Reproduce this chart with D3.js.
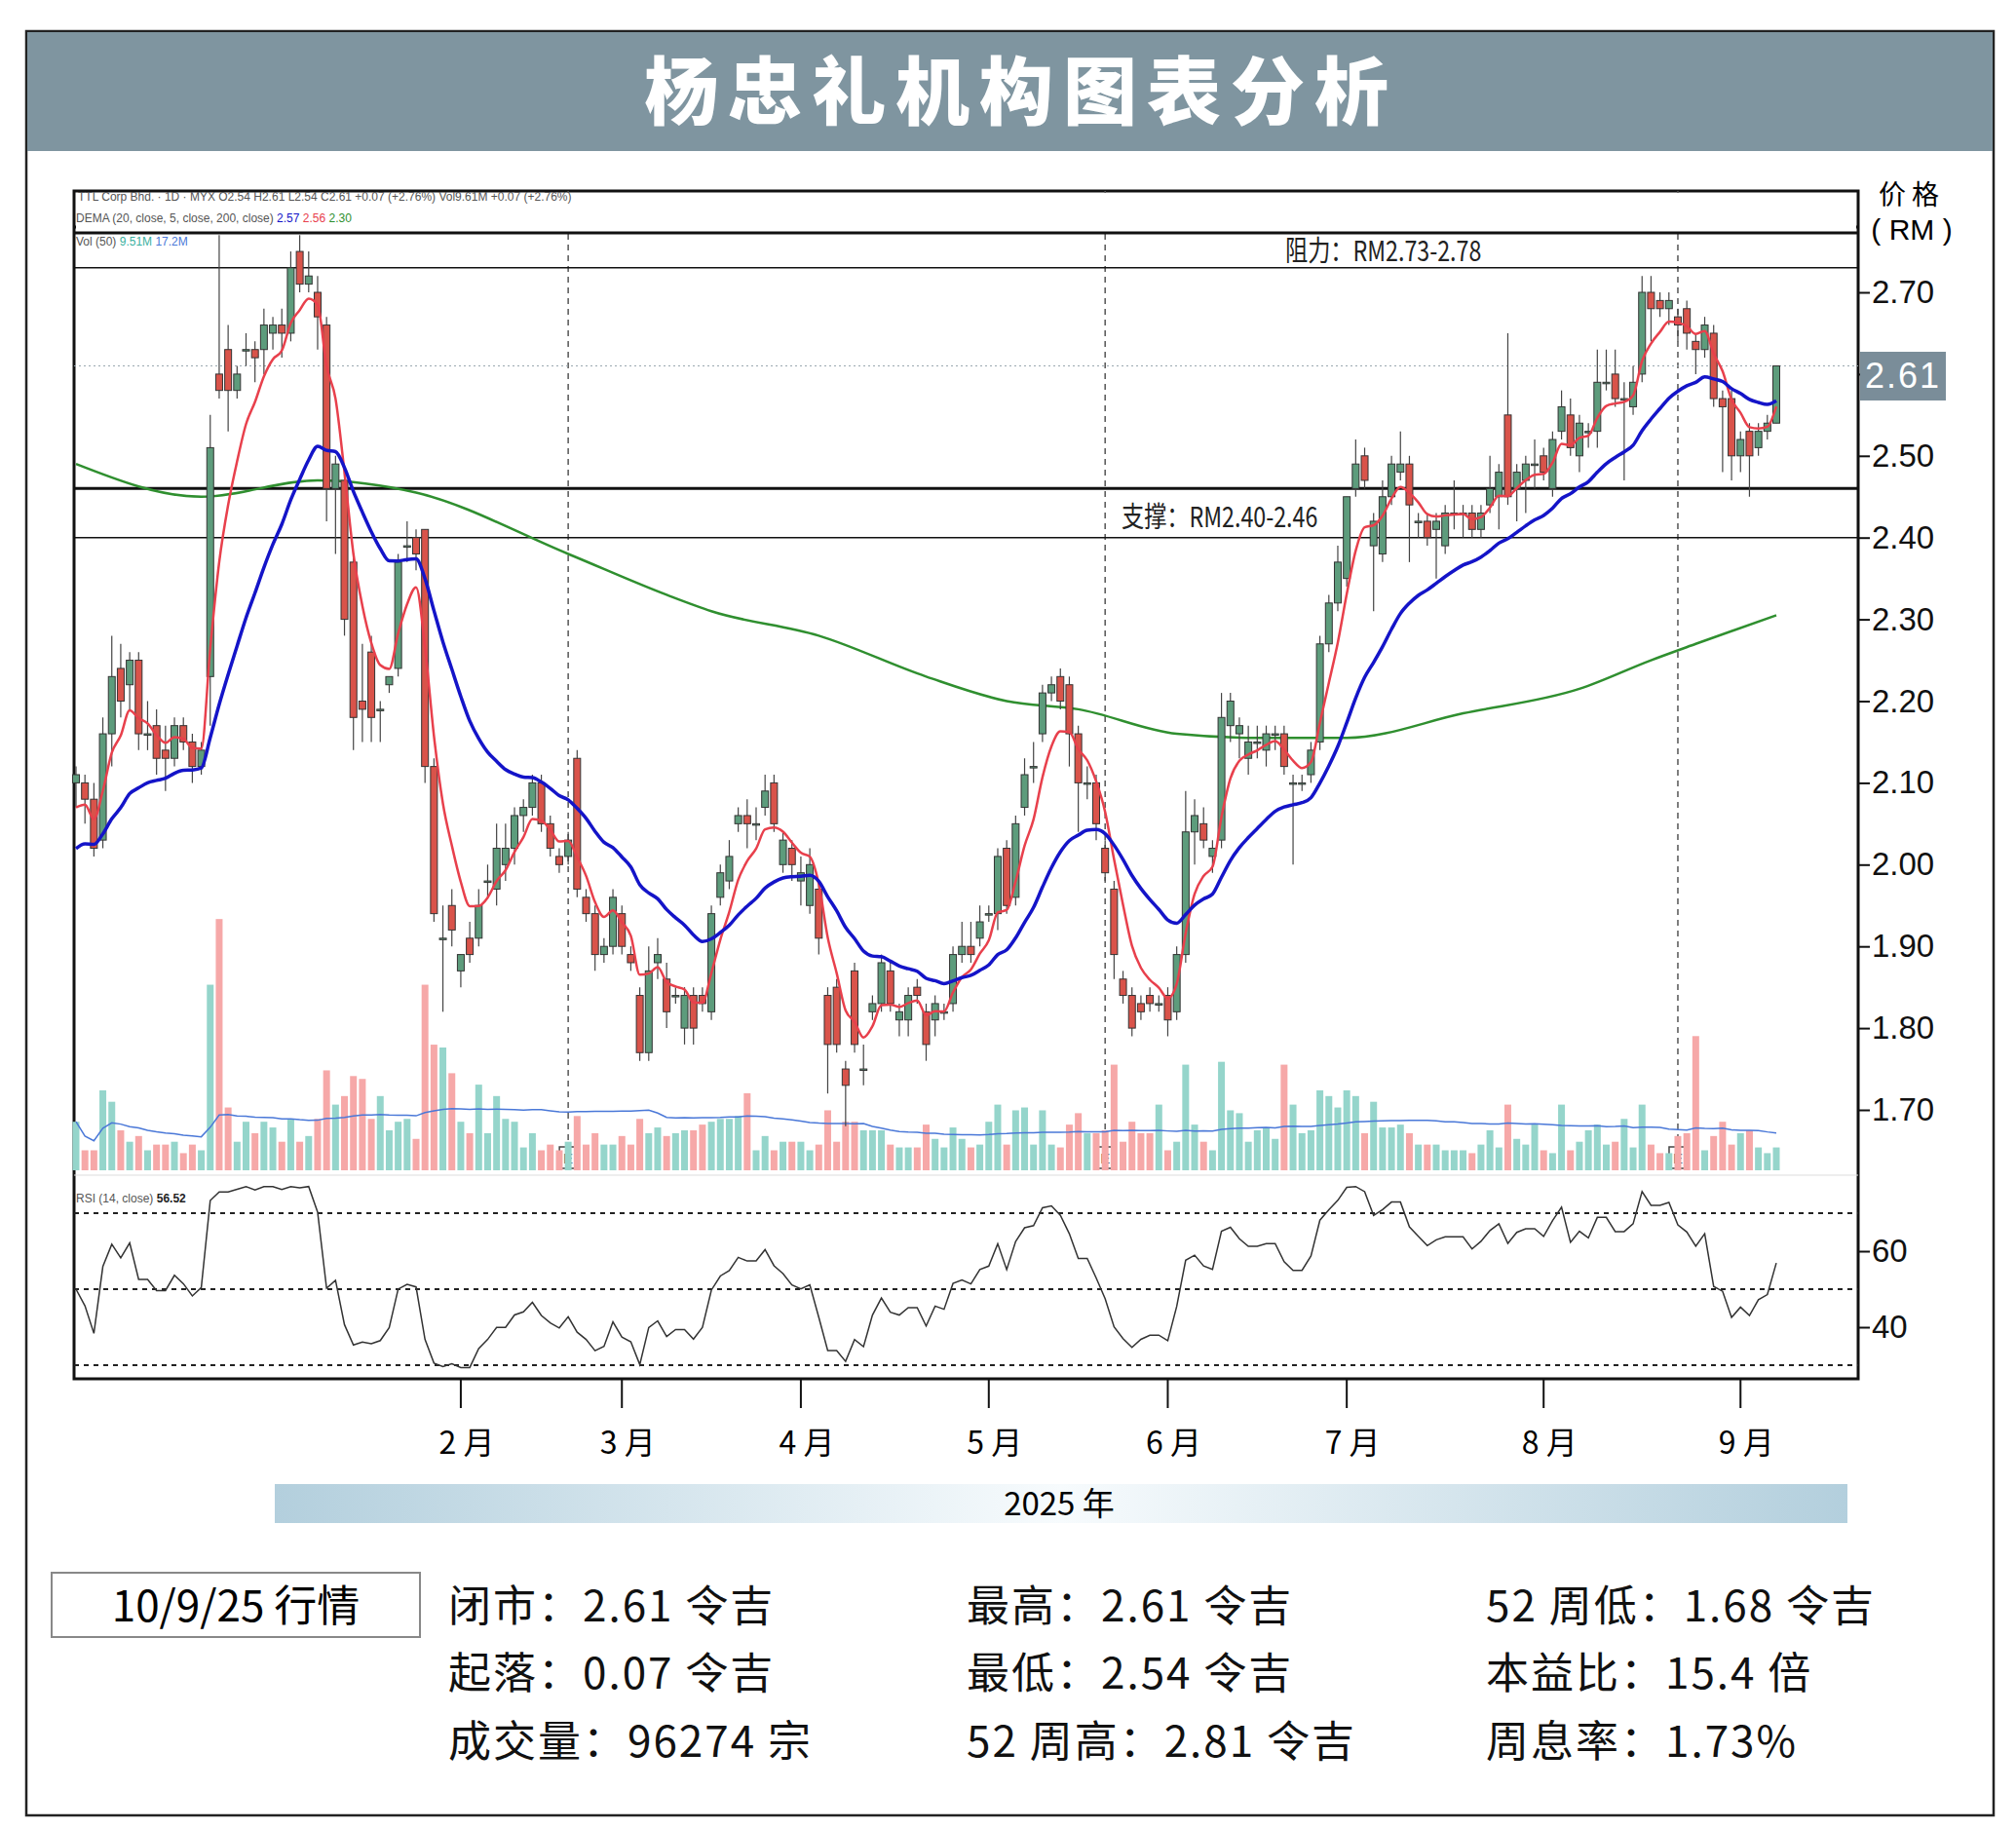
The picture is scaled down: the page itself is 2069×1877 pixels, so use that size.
<!DOCTYPE html>
<html>
<head>
<meta charset="utf-8">
<script src="https://cdn.jsdelivr.net/npm/d3@7"></script>
<style>
  body { margin: 0; background: #fff; }
  text { font-family: "Liberation Sans Narrow", "Liberation Sans", Arial, sans-serif; }
  .cjk { font-family: "Noto Sans CJK SC", sans-serif; }
</style>
</head>
<body>
<svg id="chart"></svg>
<script>
// daily candles [open, high, low, close]
const candles = [
  [2.10,2.12,2.07,2.11],[2.10,2.11,2.05,2.08],[2.08,2.10,2.01,2.02],[2.03,2.18,2.02,2.16],[2.16,2.28,2.12,2.23],
  [2.24,2.27,2.18,2.20],[2.22,2.26,2.19,2.25],[2.25,2.26,2.14,2.16],[2.16,2.20,2.14,2.16],[2.17,2.19,2.11,2.13],
  [2.14,2.17,2.09,2.13],[2.13,2.18,2.12,2.17],[2.17,2.18,2.14,2.15],[2.15,2.16,2.10,2.12],[2.12,2.15,2.11,2.14],
  [2.23,2.55,2.17,2.51],[2.60,2.77,2.57,2.58],[2.63,2.66,2.53,2.58],[2.58,2.61,2.57,2.60],[2.63,2.65,2.61,2.63],
  [2.63,2.64,2.59,2.62],[2.63,2.68,2.60,2.66],[2.65,2.67,2.63,2.66],[2.66,2.68,2.62,2.65],[2.65,2.75,2.64,2.73],
  [2.75,2.77,2.70,2.71],[2.71,2.75,2.70,2.72],[2.70,2.72,2.63,2.67],[2.66,2.67,2.42,2.46],[2.46,2.50,2.38,2.49],
  [2.47,2.48,2.28,2.30],[2.37,2.38,2.14,2.18],[2.20,2.27,2.15,2.19],[2.26,2.28,2.15,2.18],[2.19,2.20,2.15,2.19],
  [2.22,2.23,2.21,2.23],[2.24,2.38,2.23,2.37],[2.39,2.42,2.37,2.39],[2.40,2.41,2.36,2.38],[2.41,2.41,2.10,2.12],
  [2.12,2.13,1.93,1.94],[1.91,1.95,1.82,1.91],[1.95,1.97,1.90,1.92],[1.87,1.89,1.85,1.89],[1.91,1.93,1.88,1.89],
  [1.91,1.97,1.90,1.95],[1.98,2.00,1.96,1.98],[1.97,2.05,1.95,2.02],[2.00,2.05,1.98,2.02],[2.02,2.07,2.00,2.06],
  [2.06,2.08,2.04,2.07],[2.07,2.11,2.06,2.10],[2.10,2.11,2.04,2.05],[2.05,2.06,2.01,2.02],[2.01,2.02,1.99,2.00],
  [2.01,2.04,2.00,2.03],[2.13,2.14,1.96,1.97],[1.96,1.97,1.93,1.94],[1.94,1.95,1.87,1.89],[1.89,1.91,1.88,1.90],
  [1.90,1.97,1.89,1.96],[1.94,1.95,1.89,1.90],[1.89,1.90,1.87,1.88],[1.84,1.85,1.76,1.77],[1.77,1.90,1.76,1.87],
  [1.88,1.91,1.86,1.89],[1.86,1.88,1.80,1.82],
  [1.84,1.85,1.83,1.84],[1.80,1.85,1.78,1.84],[1.84,1.85,1.78,1.80],[1.84,1.85,1.82,1.83],[1.82,1.95,1.81,1.94],
  [1.96,2.00,1.95,1.99],[1.98,2.03,1.97,2.01],[2.05,2.07,2.04,2.06],[2.06,2.08,2.02,2.05],[2.05,2.07,2.03,2.05],
  [2.07,2.11,2.06,2.09],[2.10,2.11,2.04,2.05],[2.00,2.04,1.99,2.03],[2.02,2.03,1.98,2.00],[1.98,2.01,1.95,1.99],
  [1.95,2.02,1.94,2.00],[1.97,1.98,1.89,1.91],[1.84,1.85,1.72,1.78],[1.85,1.86,1.77,1.78],[1.75,1.76,1.68,1.73],
  [1.87,1.88,1.77,1.78],[1.75,1.78,1.73,1.75],[1.82,1.84,1.81,1.83],[1.83,1.89,1.82,1.88],[1.87,1.88,1.82,1.83],
  [1.81,1.83,1.79,1.82],[1.81,1.85,1.79,1.84],[1.85,1.86,1.83,1.84],[1.82,1.83,1.76,1.78],[1.81,1.84,1.79,1.83],
  [1.82,1.83,1.81,1.82],[1.83,1.90,1.82,1.89],[1.89,1.93,1.88,1.90],[1.90,1.93,1.88,1.89],[1.91,1.95,1.90,1.93],
  [1.94,1.95,1.93,1.94],[1.94,2.02,1.92,2.01],[2.02,2.03,1.94,1.95],[1.96,2.06,1.95,2.05],[2.07,2.13,2.06,2.11],
  [2.12,2.15,2.10,2.12],[2.16,2.22,2.15,2.21],[2.21,2.23,2.20,2.22],[2.23,2.24,2.19,2.20],[2.22,2.23,2.12,2.16],
  [2.16,2.17,2.04,2.10],[2.10,2.12,2.08,2.10],[2.10,2.11,2.03,2.05],[2.02,2.03,1.98,1.99],[1.97,1.98,1.86,1.89],
  [1.86,1.87,1.83,1.84],[1.84,1.85,1.79,1.80],[1.83,1.84,1.81,1.82],[1.84,1.85,1.82,1.83],[1.83,1.84,1.82,1.83],
  [1.84,1.85,1.79,1.81],[1.82,1.90,1.81,1.89],[1.89,2.09,1.88,2.04],[2.04,2.08,2.00,2.06],[2.05,2.07,2.02,2.03],
  [2.01,2.03,1.99,2.02],[2.03,2.21,2.02,2.18],[2.17,2.21,2.15,2.20],[2.16,2.18,2.13,2.17],[2.13,2.17,2.11,2.15],
  [2.15,2.17,2.13,2.15],[2.14,2.17,2.12,2.16],
  [2.16,2.17,2.14,2.16],[2.16,2.17,2.11,2.12],[2.10,2.11,2.00,2.10],[2.10,2.11,2.09,2.10],[2.11,2.15,2.10,2.14],
  [2.15,2.28,2.14,2.27],[2.27,2.33,2.26,2.32],[2.32,2.39,2.31,2.37],[2.35,2.45,2.34,2.45],[2.46,2.52,2.45,2.49],
  [2.50,2.51,2.46,2.47],[2.39,2.43,2.31,2.42],[2.38,2.47,2.37,2.45],[2.45,2.50,2.44,2.49],[2.48,2.53,2.47,2.49],
  [2.49,2.50,2.37,2.44],[2.42,2.43,2.40,2.42],[2.42,2.43,2.39,2.40],[2.41,2.43,2.35,2.42],[2.39,2.44,2.38,2.43],
  [2.43,2.47,2.41,2.43],[2.43,2.44,2.40,2.43],[2.43,2.44,2.40,2.41],[2.41,2.44,2.40,2.43],[2.44,2.50,2.43,2.46],
  [2.45,2.49,2.41,2.48],[2.55,2.65,2.44,2.45],[2.46,2.49,2.42,2.48],[2.47,2.50,2.43,2.49],[2.49,2.52,2.46,2.49],
  [2.50,2.51,2.47,2.48],[2.46,2.53,2.45,2.52],[2.53,2.58,2.52,2.56],[2.55,2.57,2.50,2.51],[2.50,2.55,2.48,2.54],
  [2.53,2.54,2.51,2.53],[2.53,2.63,2.51,2.59],[2.59,2.63,2.58,2.59],[2.60,2.63,2.56,2.57],[2.57,2.59,2.47,2.57],
  [2.56,2.61,2.55,2.59],[2.60,2.72,2.59,2.70],[2.70,2.72,2.64,2.68],[2.69,2.70,2.67,2.68],[2.68,2.70,2.66,2.69],
  [2.67,2.68,2.64,2.66],[2.68,2.69,2.63,2.65],[2.64,2.65,2.60,2.63],[2.63,2.67,2.62,2.66],[2.65,2.66,2.56,2.57],
  [2.57,2.58,2.48,2.56],[2.57,2.58,2.47,2.50],[2.50,2.53,2.48,2.52],[2.53,2.54,2.45,2.50],[2.51,2.54,2.50,2.53],
  [2.53,2.55,2.52,2.54],[2.54,2.61,2.54,2.61]
];

// volume, millions of shares
const volumes = [
  17,7,7,28,24,14,10,12,7,9,9,10,6,9,7,65,88,22,10,17,13,17,15,10,18,10,12,18,35,23,
  26,33,32,18,26,14,17,18,11,65,44,43,34,17,13,30,13,26,18,17,8,13,7,9,7,10,19,9,13,9,
  9,12,9,18,13,15,12,
  13,14,14,16,17,18,18,19,27,7,12,7,10,10,10,7,9,21,10,17,17,14,14,14,9,8,8,8,16,11,
  8,15,11,8,9,17,23,9,21,22,9,21,9,8,16,20,13,13,14,37,10,17,13,13,23,7,10,37,16,10,
  7,38,21,20,10,14,15,
  11,37,23,13,14,28,26,22,28,26,13,24,15,15,16,13,9,9,9,7,7,7,6,9,14,8,23,11,9,16,
  7,6,23,7,10,14,16,9,10,18,8,23,9,6,6,12,13,47,7,12,17,9,13,14,8,6,8
];

// 200-day EMA read at sampled bars [bar index, value]
const ema200 = [
  [0,2.49],[14,2.45],[27,2.47],[38,2.455],[55,2.38],[66,2.33],[71,2.31],[83,2.28],[95,2.23],
  [104,2.20],[112,2.19],[123,2.16],[132,2.155],[142,2.155],[155,2.185],[168,2.215],[176,2.25],
  [181,2.27],[190,2.305]
];

const priceTicks = [2.70, 2.60, 2.50, 2.40, 2.30, 2.20, 2.10, 2.00, 1.90, 1.80, 1.70];
const rsiTicks = [60, 40];
const months = [
  { label: "2 月", bar: 43 }, { label: "3 月", bar: 61 }, { label: "4 月", bar: 81 },
  { label: "5 月", bar: 102 }, { label: "6 月", bar: 122 }, { label: "7 月", bar: 142 },
  { label: "8 月", bar: 164 }, { label: "9 月", bar: 186 }
];
const earningsBars = [55, 115, 179];
const resistance = [2.73, 2.78];
const support = [2.40, 2.46];
const lastClose = 2.61;

const infoRows = [
  ["闭市：2.61 令吉", "最高：2.61 令吉", "52 周低：1.68 令吉"],
  ["起落：0.07 令吉", "最低：2.54 令吉", "本益比：15.4 倍"],
  ["成交量：96274 宗", "52 周高：2.81 令吉", "周息率：1.73%"]
];

const W = 2069, H = 1877;
const svg = d3.select("#chart").attr("width", W).attr("height", H);

const frame = { l: 76, r: 1907, t: 196, b: 1415 };
const n = candles.length;
const x = d3.scaleLinear().domain([0, n - 1]).range([78, 1823]);
const y = d3.scaleLinear().domain([1.70, 2.70]).range([1139, 300]);
const yVol = d3.scaleLinear().domain([0, 100]).range([1201, 908]);
const yRsi = d3.scaleLinear().domain([30, 70]).range([1401, 1245]);

// outer border + header
svg.append("rect").attr("x", 27).attr("y", 32).attr("width", 2019).attr("height", 1831)
  .attr("fill", "none").attr("stroke", "#222").attr("stroke-width", 2.5);
svg.append("rect").attr("x", 28).attr("y", 33).attr("width", 2017).attr("height", 122).attr("fill", "#7f95a0");
svg.append("text").attr("class", "cjk").attr("x", 1048).attr("y", 122)
  .attr("text-anchor", "middle").attr("fill", "#fff").attr("font-size", 76).attr("font-weight", 900)
  .attr("letter-spacing", 10).text("杨忠礼机构图表分析");

// chart frame
svg.append("rect").attr("x", frame.l).attr("y", frame.t).attr("width", frame.r - frame.l).attr("height", frame.b - frame.t)
  .attr("fill", "none").attr("stroke", "#111").attr("stroke-width", 3);

// earnings dashed verticals
earningsBars.forEach(b => {
  svg.append("line").attr("x1", x(b)).attr("x2", x(b)).attr("y1", frame.t).attr("y2", 1201)
    .attr("stroke", "#555").attr("stroke-width", 1.5).attr("stroke-dasharray", "6,5");
  svg.append("rect").attr("x", x(b) - 9).attr("y", 1177).attr("width", 18).attr("height", 22)
    .attr("fill", "#fff").attr("stroke", "#444").attr("stroke-width", 1.5);
  svg.append("text").attr("x", x(b)).attr("y", 1194).attr("text-anchor", "middle")
    .attr("font-size", 15).attr("fill", "#444").text("E");
});

// last price dotted line
svg.append("line").attr("x1", frame.l).attr("x2", frame.r).attr("y1", y(lastClose)).attr("y2", y(lastClose))
  .attr("stroke", "#9aa8b0").attr("stroke-width", 1.2).attr("stroke-dasharray", "2,3");

// support / resistance zones
[[resistance, "阻力：RM2.73-2.78", 1319, 268], [support, "支撑：RM2.40-2.46", 1151, 541]]
  .forEach(([z, label, lx, ly]) => {
    svg.append("line").attr("x1", frame.l).attr("x2", frame.r).attr("y1", y(z[1])).attr("y2", y(z[1]))
      .attr("stroke", "#111").attr("stroke-width", 3);
    svg.append("line").attr("x1", frame.l).attr("x2", frame.r).attr("y1", y(z[0])).attr("y2", y(z[0]))
      .attr("stroke", "#111").attr("stroke-width", 1.5);
    svg.append("text").attr("class", "cjk").attr("x", lx).attr("y", ly).attr("font-size", 29)
      .attr("fill", "#222").attr("transform", `translate(${lx},0) scale(0.8,1) translate(${-lx},0)`)
      .text(label);
  });

// volume bars
const up = d => d[3] >= d[0];
const bw = 7;
svg.append("g").selectAll("rect").data(volumes).join("rect")
  .attr("x", (d, i) => x(i) - bw / 2).attr("y", d => yVol(d))
  .attr("width", bw).attr("height", d => yVol(0) - yVol(d))
  .attr("fill", (d, i) => candles[i] && up(candles[i]) ? "#95d5cb" : "#f6a8a8");

// volume 50 SMA
const volMa = volumes.map((v, i) => d3.mean(volumes.slice(Math.max(0, i - 49), i + 1)));
svg.append("path").datum(volMa)
  .attr("d", d3.line().x((d, i) => x(i)).y(d => yVol(d)))
  .attr("fill", "none").attr("stroke", "#4a78d8").attr("stroke-width", 1.5);

// EMAs
function ema(vals, period, seed) {
  const k = 2 / (period + 1);
  let e = seed;
  return vals.map(v => (e = v * k + e * (1 - k)));
}
const closes = candles.map(d => d[3]);
const ema20 = ema(closes, 20, 2.01);
const ema5 = ema(closes, 5, 2.05);
const lineP = d3.line().x((d, i) => x(i)).y(d => y(d)).curve(d3.curveMonotoneX);

svg.append("path").datum(ema200)
  .attr("d", d3.line().x(d => x(d[0])).y(d => y(d[1])).curve(d3.curveMonotoneX))
  .attr("fill", "none").attr("stroke", "#2f8f2f").attr("stroke-width", 2.5);

// candles
const cg = svg.append("g").selectAll("g").data(candles).join("g");
cg.append("line").attr("x1", (d, i) => x(i)).attr("x2", (d, i) => x(i))
  .attr("y1", d => y(d[1])).attr("y2", d => y(d[2])).attr("stroke", "#444").attr("stroke-width", 1.2);
cg.append("rect").attr("x", (d, i) => x(i) - 3.5).attr("width", 7)
  .attr("y", d => y(Math.max(d[0], d[3])))
  .attr("height", d => Math.max(1.5, Math.abs(y(d[0]) - y(d[3]))))
  .attr("fill", d => up(d) ? "#5d9c7c" : "#d9534a")
  .attr("stroke", "#333").attr("stroke-width", 1);

svg.append("path").datum(ema5).attr("d", lineP)
  .attr("fill", "none").attr("stroke", "#e8404c").attr("stroke-width", 2.5);
svg.append("path").datum(ema20).attr("d", lineP)
  .attr("fill", "none").attr("stroke", "#1414c8").attr("stroke-width", 3.5);

// chart header strip
svg.append("rect").attr("x", frame.l + 2).attr("y", frame.t + 2).attr("width", frame.r - frame.l - 4).attr("height", 40).attr("fill", "#fff");
svg.append("line").attr("x1", frame.l).attr("x2", frame.r).attr("y1", 239).attr("y2", 239).attr("stroke", "#111").attr("stroke-width", 3);
svg.append("text").attr("x", 80).attr("y", 206).attr("font-size", 12).attr("fill", "#555")
  .text("TTL Corp Bhd. · 1D · MYX  O2.54  H2.61  L2.54  C2.61  +0.07 (+2.76%)  Vol9.61M  +0.07 (+2.76%)");
const dm = svg.append("text").attr("x", 78).attr("y", 228).attr("font-size", 12).attr("fill", "#555");
dm.append("tspan").text("DEMA (20, close, 5, close, 200, close)  ");
dm.append("tspan").attr("fill", "#1414c8").text("2.57 ");
dm.append("tspan").attr("fill", "#e8404c").text("2.56 ");
dm.append("tspan").attr("fill", "#2f8f2f").text("2.30");
const vl = svg.append("text").attr("x", 78).attr("y", 252).attr("font-size", 12).attr("fill", "#555");
vl.append("tspan").text("Vol (50)  ");
vl.append("tspan").attr("fill", "#3bb0a0").text("9.51M  ");
vl.append("tspan").attr("fill", "#4a78d8").text("17.2M");

// price axis (the 2.60 label sits under the last-price box)
const yAxis = svg.append("g").attr("transform", `translate(${frame.r},0)`)
  .call(d3.axisRight(y).tickValues(priceTicks)
    .tickFormat(d => Math.abs(d - 2.60) < 0.001 ? "" : d3.format(".2f")(d)).tickSize(12).tickPadding(2));
yAxis.select(".domain").remove();
yAxis.selectAll("line").attr("stroke", "#111").attr("stroke-width", 2);
yAxis.selectAll("text").attr("font-size", 33).attr("fill", "#111")
  .style("font-family", '"Liberation Sans Narrow", Arial, sans-serif');
svg.append("text").attr("class", "cjk").attr("x", 1962).attr("y", 210).attr("text-anchor", "middle")
  .attr("font-size", 28).attr("letter-spacing", 6).text("价格");
svg.append("text").attr("x", 1962).attr("y", 246).attr("text-anchor", "middle")
  .attr("font-size", 30).text("( RM )");
svg.append("rect").attr("x", 1909).attr("y", 361).attr("width", 88).attr("height", 50).attr("fill", "#7a8d99");
svg.append("text").attr("x", 1953).attr("y", 398).attr("text-anchor", "middle").attr("fill", "#fff")
  .attr("font-size", 36).attr("letter-spacing", 2).text(lastClose.toFixed(2));

// RSI panel
svg.append("line").attr("x1", frame.l).attr("x2", frame.r).attr("y1", 1206).attr("y2", 1206).attr("stroke", "#ddd");
[70, 50, 30].forEach(v => svg.append("line").attr("x1", frame.l).attr("x2", frame.r)
  .attr("y1", yRsi(v)).attr("y2", yRsi(v)).attr("stroke", "#222").attr("stroke-width", 1.8).attr("stroke-dasharray", "5,5"));
let ag = 0.012, al = 0.012;
const rsi = closes.map((c, i) => {
  if (i > 0) {
    const ch = c - closes[i - 1];
    ag = (ag * 13 + Math.max(ch, 0)) / 14;
    al = (al * 13 + Math.max(-ch, 0)) / 14;
  }
  return 100 - 100 / (1 + ag / al);
});
svg.append("path").datum(rsi)
  .attr("d", d3.line().x((d, i) => x(i)).y(d => yRsi(Math.max(29, Math.min(77, d)))))
  .attr("fill", "none").attr("stroke", "#333").attr("stroke-width", 1.5);
svg.append("text").attr("x", 78).attr("y", 1234).attr("font-size", 12).attr("fill", "#555")
  .text("RSI (14, close)  ").append("tspan").attr("fill", "#222").attr("font-weight", "bold").text("56.52");
const rAxis = svg.append("g").attr("transform", `translate(${frame.r},0)`)
  .call(d3.axisRight(yRsi).tickValues(rsiTicks).tickSize(12).tickPadding(2));
rAxis.select(".domain").remove();
rAxis.selectAll("line").attr("stroke", "#111").attr("stroke-width", 2);
rAxis.selectAll("text").attr("font-size", 33).attr("fill", "#111");

// month axis
const mg = svg.append("g").selectAll("g").data(months).join("g")
  .attr("transform", d => `translate(${x(d.bar)},${frame.b})`);
mg.append("line").attr("y2", 30).attr("stroke", "#111").attr("stroke-width", 2);
mg.append("text").attr("class", "cjk").attr("y", 77).attr("x", 6).attr("text-anchor", "middle")
  .attr("font-size", 32).text(d => d.label);

// year band
const grad = svg.append("defs").append("linearGradient").attr("id", "yb");
[[0, "#b3cfdd"], [0.5, "#f7fbfd"], [1, "#b3cfdd"]].forEach(([o, c]) =>
  grad.append("stop").attr("offset", o).attr("stop-color", c));
svg.append("rect").attr("x", 282).attr("y", 1523).attr("width", 1614).attr("height", 40).attr("fill", "url(#yb)");
svg.append("text").attr("class", "cjk").attr("x", 1087).attr("y", 1555).attr("text-anchor", "middle")
  .attr("font-size", 33).text("2025 年");

// info block
svg.append("rect").attr("x", 53).attr("y", 1614).attr("width", 378).attr("height", 66)
  .attr("fill", "#fff").attr("stroke", "#888").attr("stroke-width", 2);
svg.append("text").attr("class", "cjk").attr("x", 242).attr("y", 1664).attr("text-anchor", "middle")
  .attr("font-size", 44).text("10/9/25 行情");
const colX = [460, 992, 1525], rowY = [1664, 1733, 1803];
infoRows.forEach((row, r) => row.forEach((t, c) =>
  svg.append("text").attr("class", "cjk").attr("x", colX[c]).attr("y", rowY[r])
    .attr("font-size", 44).attr("fill", "#111").attr("letter-spacing", 2).text(t)));
</script>
</body>
</html>
